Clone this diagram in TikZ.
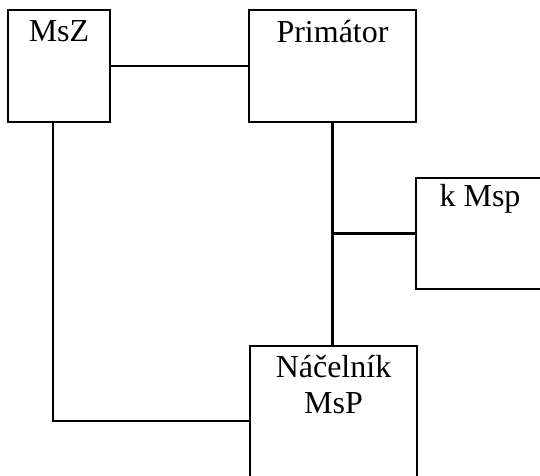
\documentclass[tikz,border=0pt]{standalone}
\usepackage{fontspec}
\setmainfont{Liberation Serif}
\begin{document}
\begin{tikzpicture}[x=1pt,y=1pt,
  box/.style={draw=black, line width=2.2pt, fill=white, inner sep=0pt},
  lbl/.style={anchor=base, inner sep=0pt, font=\fontsize{32pt}{37pt}\selectfont},
  conn/.style={draw=black, line width=2.2pt}]
\useasboundingbox (0,0) rectangle (540,475);
\clip (0,0) rectangle (540,475);
\fill[white] (0,0) rectangle (540,475);
\node[box, minimum width=102pt, minimum height=112pt,
  label={[lbl, yshift=-33pt]north:MsZ}] (msz) at (59,409) {};
\node[box, minimum width=167pt, minimum height=112pt,
  label={[lbl, yshift=-34pt]north:Primátor}] (prim) at (332.5,409) {};
\node[box, minimum width=150pt, minimum height=111pt,
  label={[lbl, yshift=-30pt, xshift=-11pt]north:k Msp}] (kmsp) at (491,241.5) {};
\node[box, minimum width=167pt, minimum height=140pt,
  label={[lbl, yshift=-33pt]north:Náčelník},
  label={[lbl, yshift=-69pt]north:MsP}] (nac) at (333.5,59) {};
\coordinate (c1) at (53,54);
\draw[conn] (msz.east) -- (prim.west);
\draw[conn] (prim.south) -- (prim.south |- nac.north);
\draw[conn] (kmsp.west) -- (kmsp.west -| prim.south);
\draw[conn] (msz.south -| c1) -- (c1) -- (c1 -| nac.west);
\end{tikzpicture}
\end{document}
